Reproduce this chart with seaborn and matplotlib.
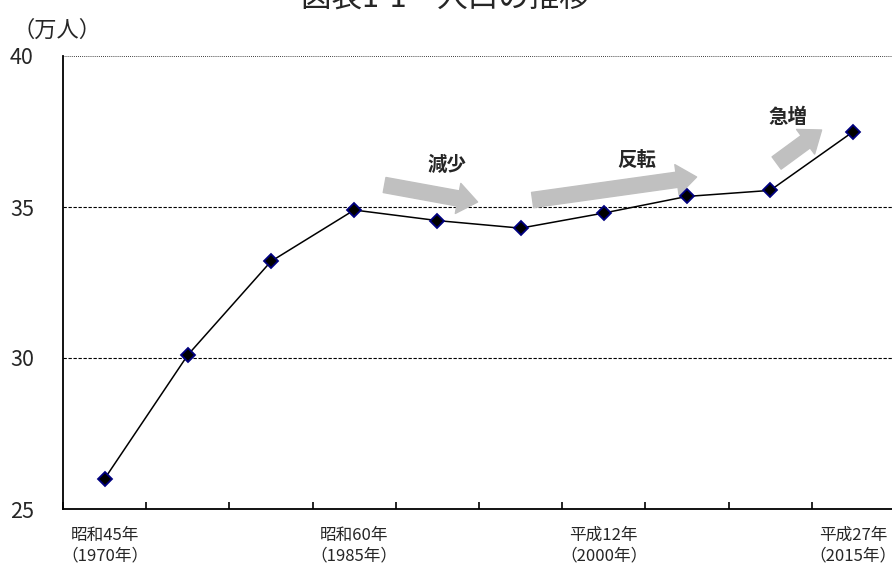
import matplotlib
matplotlib.use("Agg")
import matplotlib.pyplot as plt
import seaborn as sns
import pandas as pd
from matplotlib.patches import FancyArrowPatch

# 人口（万人）, 5年ごと 1970–2015
years = [1970, 1975, 1980, 1985, 1990, 1995, 2000, 2005, 2010, 2015]
population = [26.0, 30.1, 33.2, 34.9, 34.55, 34.3, 34.8, 35.35, 35.55, 37.5]
tick_years = [1970, 1985, 2000, 2015]
tick_labels = ["昭和45年\n（1970年）", "昭和60年\n（1985年）",
               "平成12年\n（2000年）", "平成27年\n（2015年）"]
y_ticks = [25, 30, 35, 40]

sns.set_theme(style="white")
plt.rcParams["font.family"] = ["Noto Sans CJK JP", "DejaVu Sans"]

df = pd.DataFrame({"idx": range(len(years)), "pop": population})

fig = plt.figure(figsize=(8.92, 5.66), dpi=100)
W, H = 892, 566
ax = fig.add_axes([63 / W, 1 - 509 / H, (895 - 63) / W, 453 / H])

sns.lineplot(data=df, x="idx", y="pop", ax=ax, color="black", linewidth=1.1,
             marker="D", markersize=7.5, markerfacecolor="black",
             markeredgecolor="#000080", markeredgewidth=1.3, zorder=5)

ax.set_xlim(-0.5, len(years) - 0.5)
ax.set_ylim(25, 40)

# grid lines
for v in [30, 35]:
    ax.axhline(v, color="black", linestyle=(0, (3, 1.5)), linewidth=0.8, zorder=1)
ax.axhline(40, color="black", linestyle=(0, (1, 1.5)), linewidth=0.6, zorder=1)

for side in ["top", "right"]:
    ax.spines[side].set_visible(False)
for side in ["left", "bottom"]:
    ax.spines[side].set_color("black")
    ax.spines[side].set_linewidth(1.3)

ax.set_yticks(y_ticks)
ax.set_yticklabels([str(v) for v in y_ticks], fontsize=15.5)
ax.tick_params(axis="y", length=0, pad=21)

ax.set_xticks([years.index(y) for y in tick_years])
ax.set_xticklabels(tick_labels, fontsize=12, linespacing=1.25)
ax.tick_params(axis="x", which="major", length=0, pad=13)
ax.set_xticks([i - 0.5 for i in range(len(years) + 1)], minor=True)
ax.tick_params(axis="x", which="minor", direction="in", length=5, width=1.2,
               color="black", bottom=True)
ax.set_xlabel("")
ax.set_ylabel("")

# unit label and title
fig.text(12 / W, 1 - 30 / H, "（万人）", fontsize=16, va="center", ha="left")
fig.text(445 / W, 1 - 8 / H, "図表1-1　人口の推移", fontsize=22, va="baseline",
         ha="center")


def px_to_data(px, py):
    return ((px - 105) / 83.2, 25 + (509 - py) / 30.2)


arrows = [((385, 185), (478, 202)), ((533, 200), (697, 177)), ((777, 163), (822, 130))]
for (p0, p1) in arrows:
    a = FancyArrowPatch(px_to_data(*p0), px_to_data(*p1),
                        arrowstyle="simple,head_width=2.0,head_length=1.3,tail_width=1.0",
                        mutation_scale=11, color="#C0C0C0", shrinkA=0, shrinkB=0,
                        zorder=3)
    ax.add_patch(a)

notes = [("減少", 447, 165), ("反転", 637, 160), ("急増", 788, 117)]
for txt, px, py in notes:
    x, y = px_to_data(px, py)
    ax.text(x, y, txt, fontsize=14, fontweight="bold", ha="center", va="center")

fig.savefig("out.png", dpi=100)
